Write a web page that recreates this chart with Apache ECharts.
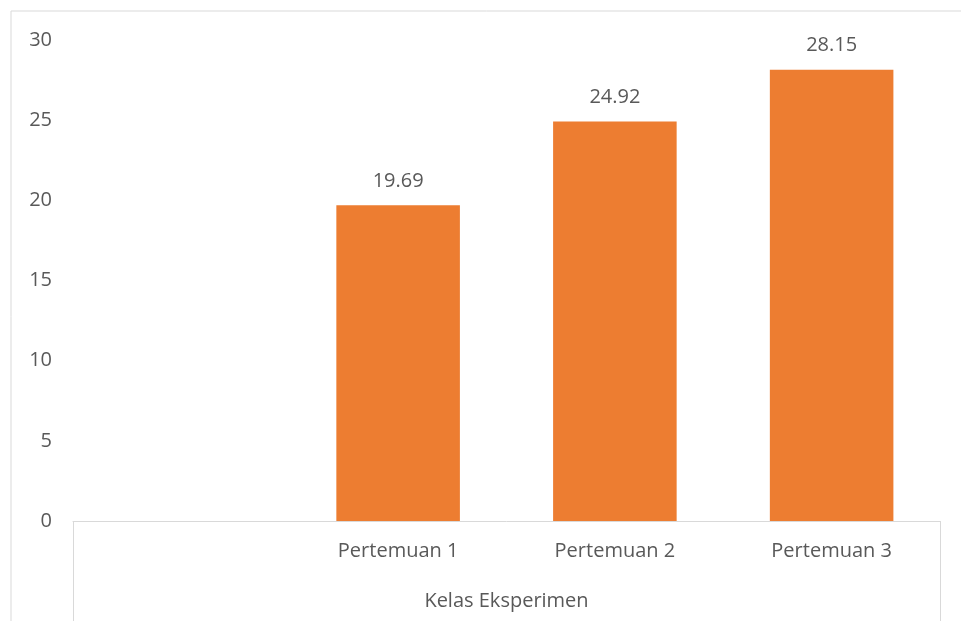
<!DOCTYPE html>
<html>
<head>
<meta charset="utf-8">
<script src="https://cdn.jsdelivr.net/npm/echarts@6/dist/echarts.min.js"></script>
<style>
  html, body { margin: 0; padding: 0; background: #fff; }
  #chart { width: 961px; height: 621px; }
</style>
</head>
<body>
<div id="chart"></div>
<script>
// Sessions (first slot is left empty), group label, scores per session
const categories = ['', 'Pertemuan 1', 'Pertemuan 2', 'Pertemuan 3'];
const groupLabels = ['Kelas Eksperimen'];
const scores = [null, 19.69, 24.92, 28.15];
const yTicks = { min: 0, max: 30, interval: 5 };

const textColor = '#595959';
const lineColor = '#d9d9d9';
const fontFamily = '"Open Sans", "Noto Sans", sans-serif';
const fontSize = 20;

const chart = echarts.init(document.getElementById('chart'));
chart.setOption({
  animation: false,
  backgroundColor: '#fff',
  graphic: [{
    type: 'rect',
    left: 8.5, top: 8.5,
    shape: { width: 1000, height: 700 },
    style: { fill: 'none', stroke: lineColor, lineWidth: 1 },
    silent: true
  }],
  grid: { left: 73, right: 21, top: 40, bottom: 100, containLabel: false },
  xAxis: [{
    type: 'category',
    data: categories,
    position: 'bottom',
    axisLine: { show: true, lineStyle: { color: lineColor, width: 1 } },
    axisTick: { show: false },
    axisLabel: { color: textColor, fontSize: fontSize, fontFamily: fontFamily, margin: 20 },
    splitLine: { show: false }
  }, {
    type: 'category',
    data: groupLabels,
    position: 'bottom',
    boundaryGap: true,
    axisLine: { show: false },
    axisTick: { show: true, length: 110, inside: false, lineStyle: { color: lineColor, width: 1 } },
    axisLabel: { color: textColor, fontSize: fontSize, fontFamily: fontFamily, margin: 70 },
    splitLine: { show: false }
  }],
  yAxis: {
    type: 'value',
    min: yTicks.min, max: yTicks.max, interval: yTicks.interval,
    axisLine: { show: false },
    axisTick: { show: false },
    splitLine: { show: false },
    axisLabel: { color: textColor, fontSize: fontSize, fontFamily: fontFamily, margin: 21 }
  },
  series: [{
    type: 'bar',
    xAxisIndex: 0,
    data: scores,
    barWidth: '57%',
    itemStyle: { color: '#ed7d31' },
    label: {
      show: true, position: 'top', distance: 14,
      color: textColor, fontSize: fontSize, fontFamily: fontFamily,
      formatter: p => p.value.toFixed(2)
    }
  }]
});
</script>
</body>
</html>
